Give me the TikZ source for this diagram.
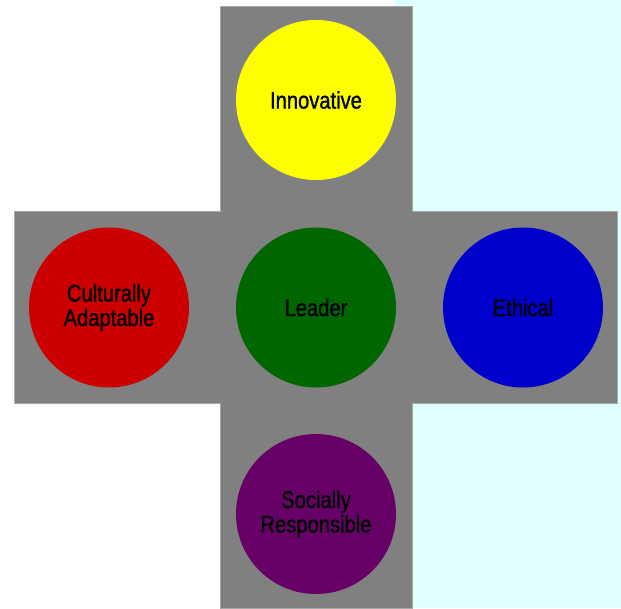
\documentclass[tikz,border=0pt]{standalone}
\usepackage{fontspec}
\setmainfont{Liberation Sans}[FakeStretch=0.84,FakeBold=1.2]
\definecolor{bgcyan}{HTML}{E0FFFF}
\definecolor{crossgray}{HTML}{808080}
\definecolor{crossedge}{HTML}{A8A8A8}
\definecolor{cyellow}{HTML}{FFFF00}
\definecolor{cred}{HTML}{CC0000}
\definecolor{cgreen}{HTML}{006600}
\definecolor{cblue}{HTML}{0000CC}
\definecolor{cpurple}{HTML}{660066}
\tikzset{
  trait/.style={circle, minimum size=160pt, inner sep=0pt, draw=none, text=black,
    align=center, font=\fontsize{24}{24.5}\selectfont},
}
\begin{document}
\begin{tikzpicture}[x=1pt,y=-1pt]
\useasboundingbox (0,0) rectangle (621,608);
\fill[white] (0,0) rectangle (621,608);
\fill[bgcyan] (395,0) rectangle (621,608);
\filldraw[fill=crossgray, draw=crossedge, line width=0.8pt]
  (220,6) -- (412,6) -- (412,211) -- (617,211) -- (617,403) -- (412,403)
  -- (412,608) -- (220,608) -- (220,403) -- (14,403) -- (14,211) -- (220,211) -- cycle;
\node[trait, fill=cyellow] (innov) at (316,100) {Innovative};
\node[trait, fill=cred] (cult) at (109,307.5) {Culturally\\Adaptable};
\node[trait, fill=cgreen] (lead) at (316,307.5) {Leader};
\node[trait, fill=cblue] (eth) at (523,307.5) {Ethical};
\node[trait, fill=cpurple] (soc) at (316,514) {Socially\\Responsible};
\end{tikzpicture}
\end{document}
